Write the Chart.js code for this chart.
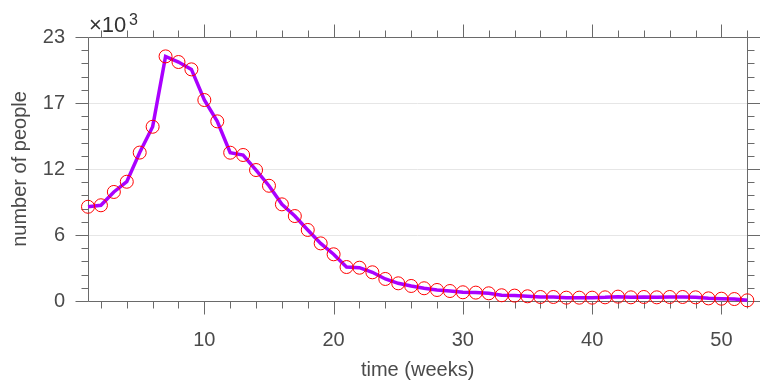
<!DOCTYPE html>
<html>
<head>
<meta charset="utf-8">
<script src="https://cdn.jsdelivr.net/npm/chart.js@4/dist/chart.umd.min.js"></script>
<style>
  body { margin: 0; background: #fff; }
</style>
</head>
<body>
<canvas id="epiChart" width="760" height="381"></canvas>
<script>
// weeks and weekly number of people
const weeks = [1, 2, 3, 4, 5, 6, 7, 8, 9, 10, 11, 12, 13, 14, 15, 16, 17, 18, 19, 20,
  21, 22, 23, 24, 25, 26, 27, 28, 29, 30, 31, 32, 33, 34, 35, 36, 37, 38, 39, 40,
  41, 42, 43, 44, 45, 46, 47, 48, 49, 50, 51, 52];
const people = [8210, 8340, 9500, 10390, 12930, 15180, 21310, 20820, 20180, 17510,
  15650, 12920, 12720, 11410, 10040, 8420, 7400, 6190, 5020, 4070,
  2960, 2900, 2500, 1920, 1540, 1310, 1110, 960, 870, 760,
  730, 670, 500, 470, 410, 350, 350, 290, 290, 290,
  320, 380, 320, 350, 320, 350, 350, 320, 230, 200, 170, 60];

// ticks
const xMajor = [10, 20, 30, 40, 50];
const xMinor = [2, 4, 6, 8, 12, 14, 16, 18, 22, 24, 26, 28, 32, 34, 36, 38, 42, 44, 46, 48, 52];
const yMajor = [0, 5750, 11500, 17250, 23000];
const yMinor = [1150, 2300, 3450, 4600, 6900, 8050, 9200, 10350, 12650, 13800, 14950, 16100,
  18400, 19550, 20700, 21850];

const points = weeks.map((w, i) => ({ x: w, y: people[i] }));
const font = 'Liberation Sans, Arial, sans-serif';
const txt = '#4a4a4a';

// box, outward ticks on all four sides, exponent label
const frame = {
  id: 'frame',
  beforeDatasetsDraw(chart) {
    const { ctx, chartArea: a, scales: { x, y } } = chart;
    const L = Math.round(a.left) + 0.5, R = Math.round(a.right) + 0.5;
    const T = Math.round(a.top) + 0.5, B = Math.round(a.bottom) + 0.5;
    ctx.save();
    ctx.strokeStyle = '#6a6a6a';
    ctx.lineWidth = 1;
    ctx.beginPath();
    ctx.rect(L, T, R - L, B - T);
    const tx = (v, len) => {
      const p = Math.round(x.getPixelForValue(v)) + 0.5;
      ctx.moveTo(p, B); ctx.lineTo(p, B + len);
      ctx.moveTo(p, T); ctx.lineTo(p, T - len);
    };
    const ty = (v, len) => {
      const p = Math.round(y.getPixelForValue(v)) + 0.5;
      ctx.moveTo(L, p); ctx.lineTo(L - len, p);
      ctx.moveTo(R, p); ctx.lineTo(R + len, p);
    };
    xMajor.forEach(v => tx(v, 13));
    xMinor.forEach(v => tx(v, 7));
    yMajor.forEach(v => ty(v, 13));
    yMinor.forEach(v => ty(v, 7));
    ctx.stroke();

    ctx.fillStyle = '#333';
    ctx.textBaseline = 'alphabetic';
    ctx.textAlign = 'left';
    ctx.font = '22px ' + font;
    ctx.fillText('\u00d710', 89, 32);
    ctx.font = '16px ' + font;
    ctx.fillText('3', 129, 25);
    ctx.restore();
  }
};

new Chart(document.getElementById('epiChart'), {
  type: 'scatter',
  data: {
    datasets: [
      {
        data: points,
        showLine: true,
        borderColor: '#aa00ff',
        borderWidth: 3.5,
        pointRadius: 0,
        tension: 0,
        order: 2
      },
      {
        data: points,
        showLine: false,
        pointRadius: 6.5,
        pointBorderWidth: 1,
        pointBorderColor: '#ff0000',
        pointBackgroundColor: 'rgba(0,0,0,0)',
        order: 1
      }
    ]
  },
  options: {
    responsive: false,
    animation: false,
    clip: false,
    layout: { padding: { left: 0, top: 37, right: 12, bottom: 0 } },
    plugins: { legend: { display: false }, tooltip: { enabled: false } },
    scales: {
      x: {
        type: 'linear',
        min: 1,
        max: 52,
        afterBuildTicks: s => { s.ticks = xMajor.map(v => ({ value: v })); },
        afterFit: s => { s.height = 80; },
        grid: { display: false, drawTicks: false },
        border: { display: false },
        ticks: { padding: 27, color: txt, font: { family: font, size: 20 }, maxRotation: 0 },
        title: {
          display: true,
          text: 'time (weeks)',
          color: txt,
          font: { family: font, size: 20 },
          padding: { top: 0, bottom: -1 }
        }
      },
      y: {
        min: 0,
        max: 23000,
        afterBuildTicks: s => { s.ticks = yMajor.map(v => ({ value: v })); },
        afterFit: s => { s.width = 88; },
        grid: {
          drawTicks: false,
          color: c => (c.tick && c.tick.value > 0 && c.tick.value < 23000) ? '#e6e6e6' : 'rgba(0,0,0,0)'
        },
        border: { display: false },
        ticks: {
          padding: 23,
          color: txt,
          font: { family: font, size: 20 },
          callback: v => Math.round(v / 1000)
        },
        title: {
          display: true,
          text: 'number of people',
          color: txt,
          font: { family: font, size: 20 },
          padding: { top: 8, bottom: 0 }
        }
      }
    }
  },
  plugins: [frame]
});
</script>
</body>
</html>
